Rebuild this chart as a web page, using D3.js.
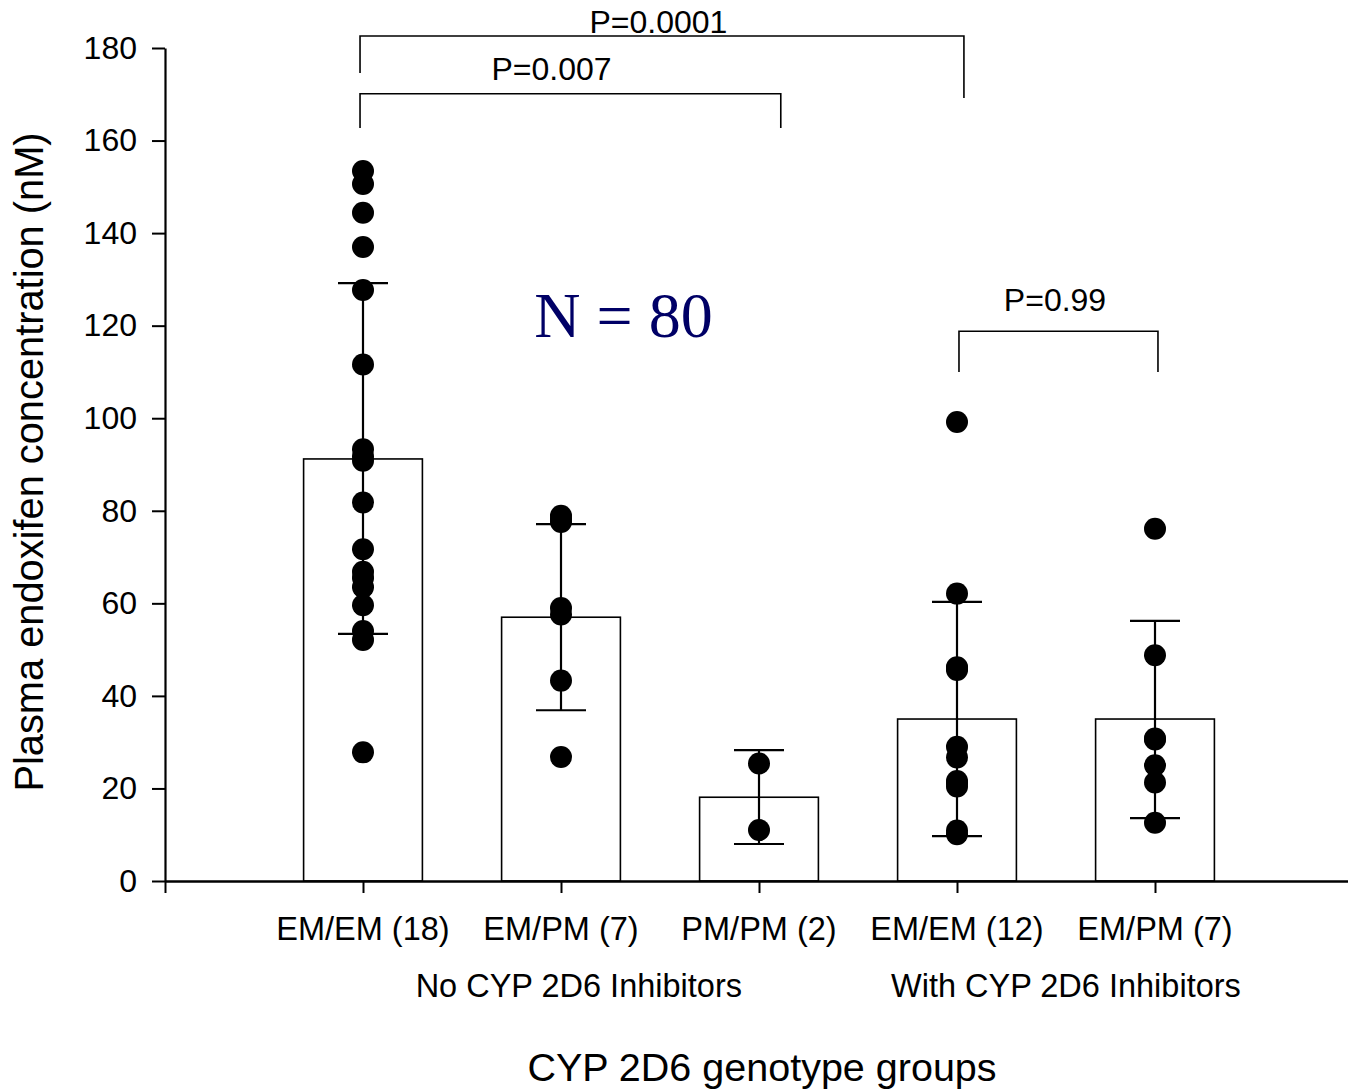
<!DOCTYPE html>
<html>
<head>
<meta charset="utf-8">
<script src="https://cdn.jsdelivr.net/npm/d3@7"></script>
<style>
  body { margin: 0; background: #fff; }
  text { font-family: "Liberation Sans", Arial, sans-serif; fill: #000; }
</style>
</head>
<body>
<div id="chart"></div>
<script>
// Categories and summary values (mean, lower/upper error bar)
let categories = ["EM/EM (18)", "EM/PM (7)", "PM/PM (2)", "EM/EM (12)", "EM/PM (7)"];
let means = [91.2, 57.0, 18.1, 35.0, 35.0];
let errLow = [53.4, 36.9, 8.0, 9.7, 13.6];
let errHigh = [129.2, 77.1, 28.3, 60.3, 56.2];

// Individual patient values, one array per group
let pts1 = [153.4, 150.6, 144.4, 137.0, 127.7, 111.6, 93.3, 91.8, 90.8, 81.8, 71.7, 66.8, 65.5, 63.5, 59.6, 54.0, 52.1, 27.8];
let pts2 = [78.9, 78.3, 77.6, 59.0, 57.6, 43.3, 26.8];
let pts3 = [25.4, 11.0];
let pts4 = [99.2, 62.1, 46.2, 46.0, 45.6, 29.0, 26.7, 21.6, 21.0, 20.4, 10.9, 10.1];
let pts5 = [76.1, 48.8, 30.8, 30.6, 25.0, 21.3, 12.6];
let points = [pts1, pts2, pts3, pts4, pts5];

// Group labels under the categories
let groupLabels = ["No CYP 2D6 Inhibitors", "With CYP 2D6 Inhibitors"];
let groupLabelPos = [2.09, 4.55];

// Significance brackets
let bracketLabels = ["P=0.0001", "P=0.007", "P=0.99"];
let bracketX1 = [0.985, 0.985, 4.01];
let bracketX2 = [4.035, 3.11, 5.015];
let bracketTop = [182.6, 170.1, 118.8];
let bracketLeftEnd = [174.6, 162.7, 110.0];
let bracketRightEnd = [169.2, 162.7, 110.0];
let bracketLabelX = [2.492, 1.952, 4.495];
let bracketLabelY = [183.2, 173.1, 123.2];

let yTicks = [0, 20, 40, 60, 80, 100, 120, 140, 160, 180];

let svgWidth = 1348;
let svgHeight = 1091;

let svg = d3.select("#chart")
  .append("svg")
  .attr("width", svgWidth)
  .attr("height", svgHeight);

// Scales
let x = d3.scaleLinear().domain([0, 6]).range([165, 1353]);
let y = d3.scaleLinear().domain([0, 180]).range([881, 48]);
let barWidth = (x(1) - x(0)) * 0.6;
let capHalf = 25;

// Bars
svg.append("g").selectAll("rect")
  .data(means)
  .enter()
  .append("rect")
  .attr("x", (d, i) => x(i + 1) - barWidth / 2)
  .attr("y", d => y(d))
  .attr("width", barWidth)
  .attr("height", d => y(0) - y(d))
  .attr("fill", "#fff")
  .attr("stroke", "#000")
  .attr("stroke-width", 1.6);

// Error bars
let err = svg.append("g")
  .attr("stroke", "#000")
  .attr("stroke-width", 2.2);

categories.forEach(function(c, i) {
  let cx = x(i + 1);
  err.append("line")
    .attr("x1", cx).attr("x2", cx)
    .attr("y1", y(errLow[i])).attr("y2", y(errHigh[i]));
  err.append("line")
    .attr("x1", cx - capHalf).attr("x2", cx + capHalf)
    .attr("y1", y(errHigh[i])).attr("y2", y(errHigh[i]));
  err.append("line")
    .attr("x1", cx - capHalf).attr("x2", cx + capHalf)
    .attr("y1", y(errLow[i])).attr("y2", y(errLow[i]));
});

// Dots
points.forEach(function(arr, i) {
  svg.append("g").selectAll("circle")
    .data(arr)
    .enter()
    .append("circle")
    .attr("cx", x(i + 1))
    .attr("cy", d => y(d))
    .attr("r", 11)
    .attr("fill", "#000");
});

// Axes
let xAxis = d3.axisBottom(x)
  .tickValues([0, 1, 2, 3, 4, 5])
  .tickFormat("")
  .tickSize(12)
  .tickSizeOuter(0);

let xg = svg.append("g")
  .attr("transform", `translate(0, ${y(0)})`)
  .call(xAxis);
xg.select(".domain").attr("stroke-width", 2.6);
xg.selectAll(".tick line").attr("stroke-width", 2);

let yAxis = d3.axisLeft(y)
  .tickValues(yTicks)
  .tickSize(13)
  .tickSizeOuter(0)
  .tickPadding(15);

let yg = svg.append("g")
  .attr("transform", `translate(${x(0)}, 0)`)
  .call(yAxis);
yg.select(".domain").attr("stroke-width", 2.2);
yg.selectAll(".tick line").attr("stroke-width", 2);
yg.selectAll(".tick text")
  .style("font-size", "32px")
  .attr("font-family", null);

// Category labels
svg.append("g").selectAll("text")
  .data(categories)
  .enter()
  .append("text")
  .attr("x", (d, i) => x(i + 1))
  .attr("y", 940)
  .attr("text-anchor", "middle")
  .style("font-size", "32.5px")
  .text(d => d);

svg.append("g").selectAll("text")
  .data(groupLabels)
  .enter()
  .append("text")
  .attr("x", (d, i) => x(groupLabelPos[i]))
  .attr("y", 997)
  .attr("text-anchor", "middle")
  .style("font-size", "32.5px")
  .text(d => d);

// Axis titles
svg.append("text")
  .attr("x", 762)
  .attr("y", 1081)
  .attr("text-anchor", "middle")
  .style("font-size", "39.5px")
  .text("CYP 2D6 genotype groups");

svg.append("text")
  .attr("transform", "translate(43, 462) rotate(-90)")
  .attr("text-anchor", "middle")
  .style("font-size", "39.8px")
  .text("Plasma endoxifen concentration (nM)");

// Significance brackets
let br = svg.append("g");
bracketLabels.forEach(function(lab, i) {
  let path = d3.path();
  path.moveTo(x(bracketX1[i]), y(bracketLeftEnd[i]));
  path.lineTo(x(bracketX1[i]), y(bracketTop[i]));
  path.lineTo(x(bracketX2[i]), y(bracketTop[i]));
  path.lineTo(x(bracketX2[i]), y(bracketRightEnd[i]));
  br.append("path")
    .attr("d", path.toString())
    .attr("fill", "none")
    .attr("stroke", "#000")
    .attr("stroke-width", 1.6);
  br.append("text")
    .attr("x", x(bracketLabelX[i]))
    .attr("y", y(bracketLabelY[i]))
    .attr("text-anchor", "middle")
    .style("font-size", "32px")
    .text(lab);
});

// N label
svg.append("text")
  .attr("x", 623.5)
  .attr("y", 337)
  .attr("text-anchor", "middle")
  .style("font-family", "'Liberation Serif', 'Times New Roman', serif")
  .style("font-size", "64px")
  .style("fill", "#000066")
  .text("N = 80");
</script>
</body>
</html>
